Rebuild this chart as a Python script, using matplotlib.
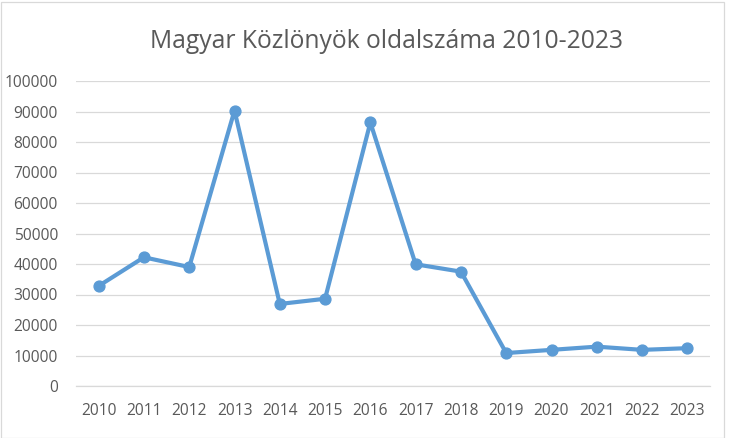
import numpy as np
import matplotlib
matplotlib.use("Agg")
from matplotlib import pyplot as plt
from matplotlib.patches import Rectangle

# Magyar Közlöny page counts per year
years = ['2010', '2011', '2012', '2013', '2014', '2015', '2016',
         '2017', '2018', '2019', '2020', '2021', '2022', '2023']
pages = [32800, 42200, 39000, 90300, 26900, 28600, 86400,
         39900, 37500, 10800, 11850, 12900, 11850, 12400]

plt.rcParams['font.family'] = ['Open Sans', 'DejaVu Sans']

textColor = '#595959'
gridColor = '#D9D9D9'
lineColor = '#5B9BD5'

fig = plt.figure(figsize=(7.3, 4.38), dpi=100)
ax = fig.add_axes([76 / 730, 1 - 386 / 438, 634 / 730, 305 / 438])

ind = np.arange(len(years))
ax.plot(ind, pages, color=lineColor, linewidth=3.0, marker='o',
        markersize=7.8, solid_capstyle='round', solid_joinstyle='round', zorder=3)

ax.set_xlim(-0.5, len(years) - 0.5)
ax.set_ylim(0, 100000)
ax.set_yticks(np.arange(0, 100001, 10000))
ax.set_xticks(ind)
ax.set_xticklabels(years)

ax.yaxis.grid(True, color=gridColor, linewidth=0.9)
ax.set_axisbelow(True)
for side in ['top', 'right', 'left']:
    ax.spines[side].set_visible(False)
ax.spines['bottom'].set_color(gridColor)
ax.spines['bottom'].set_linewidth(0.9)
ax.tick_params(axis='both', length=0, colors=textColor, labelsize=11.2)
ax.tick_params(axis='x', pad=12.5)
ax.tick_params(axis='y', pad=13)

fig.text(387 / 730, 1 - 42 / 438, 'Magyar Közlönyök oldalszáma 2010-2023',
         ha='center', va='center', fontsize=17.7, color=textColor)

# Excel-like chart border
fig.patches.append(Rectangle((1 / 730, 0.5 / 438), 723 / 730, 436 / 438,
                             transform=fig.transFigure, fill=False,
                             edgecolor=gridColor, linewidth=0.9))

plt.savefig('out.png', dpi=100)
